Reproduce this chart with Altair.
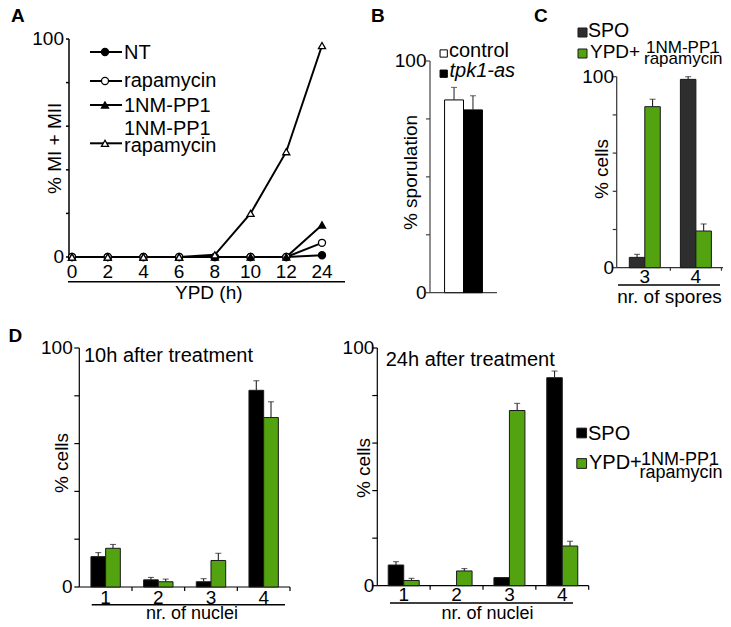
import altair as alt
import pandas as pd

FONT = "Liberation Sans"
W, H = 715, 611
M = 8  # page margin

# ---------------- data ----------------
panel_letters = ["A", "B", "C", "D"]

# A: % MI + MII during growth in YPD
hours = ["0", "2", "4", "6", "8", "10", "12", "24"]
a_series = ["NT", "rapamycin", "1NM-PP1", "1NM-PP1\nrapamycin"]
a_nt = [0, 0, 0, 0, 0, 0, 0, 0.8]
a_rapamycin = [0, 0, 0, 0, 0, 0, 0, 6.5]
a_nmpp1 = [0, 0, 0, 0, 0, 0, 0, 14.7]
a_combo = [0, 0, 0, 0, 1, 20, 48.3, 97]

# B: % sporulation
b_strains = ["control", "tpk1-as"]
b_mean = [83.2, 78.9]
b_err = [5.4, 6.1]

# C / D groups
groups = ["SPO", "YPD+"]
treatment = ["1NM-PP1", "rapamycin"]

c_spores = ["3", "4"]
c_spo = [5.4, 98.6]
c_spo_err = [1.6, 1.4]
c_ypd = [84.3, 19.2]
c_ypd_err = [3.9, 3.7]

nuclei = ["1", "2", "3", "4"]
d_titles = ["10h after treatment", "24h after treatment"]
d10_spo = [12.7, 3.0, 2.2, 82.3]
d10_spo_err = [1.7, 1.0, 1.3, 4.0]
d10_ypd = [16.2, 2.2, 11.1, 70.9]
d10_ypd_err = [1.6, 1.1, 3.0, 6.6]

d24_spo = [8.7, 0, 3.4, 87.5]
d24_spo_err = [1.4, 0, 0, 2.8]
d24_ypd = [2.2, 6.2, 73.7, 16.7]
d24_ypd_err = [0.9, 1.0, 3.0, 2.0]

GREEN = "#52a30f"
DARK = "#2e2e2e"


def px(x):
    return x - M


def py(y):
    return y - M


# ---------------- helpers ----------------
def text(t, x, y, size=20, weight="normal", style="normal", align="left", angle=0):
    mk = dict(font=FONT, fontSize=size, fontWeight=weight, fontStyle=style,
              align=align, baseline="alphabetic", color="black")
    if angle:
        mk["angle"] = angle
    return alt.Chart(pd.DataFrame({"t": [t]})).mark_text(**mk).encode(
        x=alt.value(px(x)), y=alt.value(py(y)), text="t:N")


def hline(x1, x2, y, w=1.4, color="black"):
    return alt.Chart(pd.DataFrame({"d": [0]})).mark_rule(
        color=color, strokeWidth=w
    ).encode(x=alt.value(px(x1)), x2=alt.value(px(x2)), y=alt.value(py(y)))


def marker(x, y, shape, fill, size, stroke="black", sw=1.2):
    return alt.Chart(pd.DataFrame({"d": [0]})).mark_point(
        shape=shape, filled=True, fill=fill, stroke=stroke, strokeWidth=sw,
        size=size, opacity=1
    ).encode(x=alt.value(px(x)), y=alt.value(py(y)))


def y_axis_layers(ys, axis_x, ticks, tick, pad, color, width, title, title_dx, title_cy):
    dom = alt.Chart(pd.DataFrame({"lo": [ticks[0]], "hi": [ticks[-1]]})).mark_rule(
        color=color, strokeWidth=width
    ).encode(x=alt.value(px(axis_x)), y=alt.Y("lo:Q", scale=ys, axis=None), y2="hi:Q")
    tk = alt.Chart(pd.DataFrame({"v": ticks})).mark_rule(
        color=color, strokeWidth=width
    ).encode(x=alt.value(px(axis_x) - tick), x2=alt.value(px(axis_x)),
             y=alt.Y("v:Q", scale=ys, axis=None))
    lab = alt.Chart(pd.DataFrame({"v": [ticks[0], ticks[-1]]})).mark_text(
        font=FONT, fontSize=19, align="right", baseline="middle", color="black"
    ).encode(x=alt.value(px(axis_x) - tick - pad),
             y=alt.Y("v:Q", scale=ys, axis=None), text="v:Q")
    ttl = text(title, axis_x + title_dx, title_cy, size=19, align="center", angle=270)
    return [dom, tk, lab, ttl]


def x_axis_layers(xs, field, ftype, cats, x0, x1, axis_y, tick, color, width,
                  label_base, title, title_cx, title_base, title_size=19, domain=True):
    out = []
    if domain:
        out.append(hline(x0, x1, axis_y, w=width, color=color))
    if tick:
        out.append(alt.Chart(pd.DataFrame({field: cats})).mark_rule(
            color=color, strokeWidth=width
        ).encode(x=alt.X(f"{field}:{ftype}", scale=xs, sort=cats, axis=None, bandPosition=1),
                 y=alt.value(py(axis_y)), y2=alt.value(py(axis_y) + tick)))
    if label_base:
        out.append(alt.Chart(pd.DataFrame({field: cats})).mark_text(
            font=FONT, fontSize=19, align="center", baseline="alphabetic", color="black"
        ).encode(x=alt.X(f"{field}:{ftype}", scale=xs, sort=cats, axis=None),
                 y=alt.value(py(label_base)), text=f"{field}:N"))
    if title:
        out.append(text(title, title_cx, title_base, size=title_size, align="center"))
    return out


# ---------------- panel A ----------------
a_values = [a_nt, a_rapamycin, a_nmpp1, a_combo]
dfA = pd.DataFrame([
    {"series": s, "hour": h, "value": v}
    for s, vals in zip(a_series, a_values) for h, v in zip(hours, vals)
])
xA = alt.Scale(type="point", domain=hours, range=[px(72), px(322)], padding=0)
yA = alt.Scale(domain=[0, 100], range=[py(257), py(39)], nice=False, zero=False)

a_lines = alt.Chart(dfA).mark_line(color="black", strokeWidth=2).encode(
    x=alt.X("hour:O", sort=hours, scale=xA, axis=None),
    y=alt.Y("value:Q", scale=yA, axis=None),
    detail="series:N",
)
a_points = alt.Chart(dfA).mark_point(
    filled=True, stroke="black", strokeWidth=1.3, size=50, opacity=1
).encode(
    x=alt.X("hour:O", sort=hours, scale=xA, axis=None),
    y=alt.Y("value:Q", scale=yA, axis=None),
    shape=alt.Shape("series:N", scale=alt.Scale(
        domain=a_series, range=["circle", "circle", "triangle-up", "triangle-up"]), legend=None),
    fill=alt.Fill("series:N", scale=alt.Scale(
        domain=a_series, range=["black", "white", "black", "white"]), legend=None),
)
panelA = alt.layer(
    *y_axis_layers(yA, 69, [0, 20, 40, 60, 80, 100], 3, 2, "black", 1.5,
                   "% MI + MII", -8.3, 148.3),
    *x_axis_layers(xA, "hour", "O", hours, 69, 322, 257, 0, "black", 1.5,
                   278, "YPD (h)", 208.8, 299, domain=False),
    a_lines, a_points,
)

# ---------------- panel B ----------------
dfB = pd.DataFrame({"strain": b_strains, "mean": b_mean, "err": b_err})
xB = alt.Scale(type="band", domain=b_strains, range=[px(430), px(497)],
               paddingInner=0, paddingOuter=0.77)
yB = alt.Scale(domain=[0, 100], range=[py(292.7), py(61)], nice=False, zero=True)
b_bars = alt.Chart(dfB).mark_bar(stroke="black", strokeWidth=1).encode(
    x=alt.X("strain:N", scale=xB, axis=None),
    y=alt.Y("mean:Q", scale=yB, axis=None),
    fill=alt.Fill("strain:N", scale=alt.Scale(domain=b_strains, range=["white", "black"]), legend=None),
)
b_err_base = alt.Chart(dfB).transform_calculate(top="datum.mean + datum.err")
b_stem = b_err_base.mark_rule(color="#333", strokeWidth=1.1).encode(
    x=alt.X("strain:N", scale=xB, axis=None),
    y=alt.Y("mean:Q", scale=yB, axis=None), y2="top:Q")
b_cap = b_err_base.mark_tick(color="#333", orient="horizontal", size=6, thickness=1.1).encode(
    x=alt.X("strain:N", scale=xB, axis=None),
    y=alt.Y("top:Q", scale=yB, axis=None))
panelB = alt.layer(
    *y_axis_layers(yB, 430, [0, 25, 50, 75, 100], 4, -0.5, "#444", 1.2,
                   "% sporulation", -13.3, 172.5),
    hline(430, 497, 292.7, w=1.2, color="#444"),
    b_bars, b_stem, b_cap,
)


# ---------------- grouped panels (C, D) ----------------
def grouped_panel(cats, spo, spo_err, ypd, ypd_err, x0, x1, y0, y1, pad_outer,
                  bar_w, spo_color, ax_color, ytitle_dx, ytitle_cy, y_tick, y_pad,
                  xtitle, xtitle_cx, xtitle_base, x_tick, xlabel_base, xtitle_size=19):
    rows = []
    for g, means, errs in ((groups[0], spo, spo_err), (groups[1], ypd, ypd_err)):
        for c, m, e in zip(cats, means, errs):
            rows.append({"cat": c, "grp": g, "mean": m, "err": e})
    df = pd.DataFrame(rows)
    band = (x1 - x0) / (len(cats) + 2 * pad_outer)
    sub_pad = band / (2 * bar_w) - 1
    xs = alt.Scale(type="band", domain=cats, range=[px(x0), px(x1)],
                   paddingInner=0, paddingOuter=pad_outer)
    ys = alt.Scale(domain=[0, 100], range=[py(y0), py(y1)], nice=False, zero=True)
    os_ = alt.Scale(type="band", domain=groups, range=[0, band],
                    paddingInner=0, paddingOuter=sub_pad)
    fs = alt.Scale(domain=groups, range=[spo_color, GREEN])
    bars = alt.Chart(df).transform_filter("datum.mean > 0").mark_bar(
        stroke="#1a1a1a", strokeWidth=1
    ).encode(
        x=alt.X("cat:N", scale=xs, axis=None),
        xOffset=alt.XOffset("grp:N", scale=os_),
        y=alt.Y("mean:Q", scale=ys, axis=None),
        fill=alt.Fill("grp:N", scale=fs, legend=None),
    )
    eb = alt.Chart(df).transform_filter("datum.err > 0").transform_calculate(
        top="datum.mean + datum.err")
    stem = eb.mark_rule(color="#222", strokeWidth=1.1).encode(
        x=alt.X("cat:N", scale=xs, axis=None),
        xOffset=alt.XOffset("grp:N", scale=os_),
        y=alt.Y("mean:Q", scale=ys, axis=None), y2="top:Q")
    cap = eb.mark_tick(color="#222", orient="horizontal", size=6, thickness=1.1).encode(
        x=alt.X("cat:N", scale=xs, axis=None),
        xOffset=alt.XOffset("grp:N", scale=os_),
        y=alt.Y("top:Q", scale=ys, axis=None))
    return alt.layer(
        *y_axis_layers(ys, x0, [0, 20, 40, 60, 80, 100], y_tick, y_pad, ax_color, 1.2,
                       "% cells", ytitle_dx, ytitle_cy),
        *x_axis_layers(xs, "cat", "N", cats, x0, x1, y0, x_tick, ax_color, 1.2,
                       xlabel_base, xtitle, xtitle_cx, xtitle_base, title_size=xtitle_size),
        bars, stem, cap,
    )


panelC = grouped_panel(c_spores, c_spo, c_spo_err, c_ypd, c_ypd_err,
                       616.7, 724, 267.7, 76.7, 0.05, 15.5, DARK, "#333",
                       -8.7, 169, 4, -1.3, "nr. of spores", 669.5, 303, 3, 283)
panelD1 = grouped_panel(nuclei, d10_spo, d10_spo_err, d10_ypd, d10_ypd_err,
                        79.3, 290, 587, 348, 0, 14.7, "black", "black",
                        -11, 463, 5, 1.6, "nr. of nuclei", 192, 618.8, 4, 603.5,
                        xtitle_size=18)
panelD2 = grouped_panel(nuclei, d24_spo, d24_spo_err, d24_ypd, d24_ypd_err,
                        377.3, 588.7, 585.7, 348, 0, 15.5, "black", "black",
                        -7.3, 468, 5, -2, "nr. of nuclei", 487.5, 618.8, 4, 601,
                        xtitle_size=18)

# ---------------- annotations ----------------
ann = []
for letter, (lx, ly) in zip(panel_letters, [(11, 22), (371, 22), (534, 22), (8.5, 341.7)]):
    ann.append(text(letter, lx, ly, size=19, weight="bold"))

# underlines below x-axis labels
ann += [hline(68, 345, 281.7), hline(618, 720, 285),
        hline(91.7, 285, 604.8), hline(390, 573, 603)]

# A legend
a_leg_y = [52, 81, 105, 143.3]
a_shapes = ["circle", "circle", "triangle-up", "triangle-up"]
a_fills = ["black", "white", "black", "white"]
a_text_base = [[58.8], [87], [112], [135, 151.5]]
for name, ly, shp, fl, bases in zip(a_series, a_leg_y, a_shapes, a_fills, a_text_base):
    ann.append(hline(90, 122, ly, w=2))
    ann.append(marker(105, ly, shp, fl, 50, sw=1.3))
    for part, b in zip(name.split("\n"), bases):
        ann.append(text(part, 124, b, size=20))

# B legend
ann.append(marker(443.7, 53.5, "square", "white", 53, sw=1))
ann.append(text(b_strains[0], 449, 56.7, size=20))
ann.append(marker(443.7, 73.7, "square", "black", 53, sw=1))
ann.append(text(b_strains[1], 449.5, 77, size=20, style="italic"))

# C legend
ann.append(marker(582.5, 32.5, "square", DARK, 81, stroke="#1a1a1a", sw=1))
ann.append(text(groups[0], 588, 36.7, size=19.5))
ann.append(marker(582.5, 53.5, "square", GREEN, 81, stroke="#1a1a1a", sw=1))
ann.append(text(groups[1], 590, 58.3, size=19))
ann.append(text(treatment[0], 646, 53.3, size=17))
ann.append(text(treatment[1], 644, 64, size=17))

# D titles
ann.append(text(d_titles[0], 84, 361.7, size=20))
ann.append(text(d_titles[1], 385.7, 365.7, size=20))

# D legend
ann.append(marker(581.7, 433, "square", "black", 95, stroke="#1a1a1a", sw=1))
ann.append(text(groups[0], 588, 440, size=20))
ann.append(marker(581.7, 463.5, "square", GREEN, 95, stroke="#1a1a1a", sw=1))
ann.append(text(groups[1], 589, 469.3, size=20))
ann.append(text(treatment[0], 641, 465, size=18))
ann.append(text(treatment[1], 639.5, 477.5, size=18))

chart = alt.layer(panelA, panelB, panelC, panelD1, panelD2, *ann).resolve_scale(
    x="independent", y="independent", fill="independent",
    shape="independent", xOffset="independent"
).properties(
    width=W, height=H, padding=0, autosize=alt.AutoSizeParams(type="none")
).configure_view(strokeWidth=0)

chart.save("out.html", embed_options={"renderer": "svg", "actions": False})
